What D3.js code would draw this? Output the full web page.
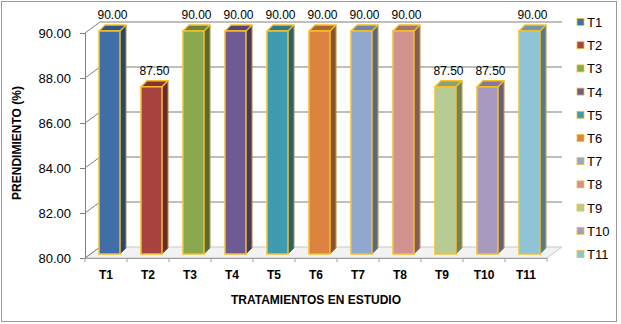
<!DOCTYPE html>
<html lang="es">
<head>
<meta charset="utf-8">
<script src="https://cdnjs.cloudflare.com/ajax/libs/d3/7.8.5/d3.min.js"></script>
<style>
  body { margin: 0; background: #fff; }
  text { font-family: "Liberation Sans", Arial, sans-serif; fill: #000; }
</style>
</head>
<body>
<script>
// data
var categories = ["T1","T2","T3","T4","T5","T6","T7","T8","T9","T10","T11"];
var values = [90.00, 87.50, 90.00, 90.00, 90.00, 90.00, 90.00, 90.00, 87.50, 87.50, 90.00];
var yTicks = [80, 82, 84, 86, 88, 90];
var colors = ["#3f6ea9","#a94340","#8aa84e","#6f5a93","#3f9bb0","#dc843f",
              "#90a8d0","#d19390","#b6cc92","#a99bc0","#8ec4d5"];

var W = 621, H = 324;
var svg = d3.select("body").append("svg").attr("width", W).attr("height", H);

// chart frame
svg.append("rect").attr("x", 1.5).attr("y", 1.5).attr("width", 615).attr("height", 320)
  .attr("fill", "#fff").attr("stroke", "#9a9a9a").attr("stroke-width", 1);

var left = 85, right = 547, depthX = 15, depthY = -11;

var x = d3.scaleBand().domain(categories).range([left, right]);
var yFront = d3.scaleLinear().domain([80, 90]).range([258, 33]);
var yBack = d3.scaleLinear().domain([80, 90]).range([258 + depthY, 33 + depthY]);
var yBar = d3.scaleLinear().domain([80, 90]).range([254, 31]);

// floor
var floor = svg.append("g");
floor.append("path")
  .attr("d", "M" + left + "," + yFront(80) + "L" + right + "," + yFront(80) +
             "L" + (right + depthX) + "," + yBack(80) + "L" + (left + depthX) + "," + yBack(80) + "Z")
  .attr("fill", "#f2f2f2").attr("stroke", "#c8c8c8").attr("stroke-width", 1);

// back wall gridlines
var grid = svg.append("g");
yTicks.forEach(function(t) {
  if (t > 80) {
    grid.append("line")
      .attr("x1", left + depthX).attr("x2", right + depthX)
      .attr("y1", yBack(t)).attr("y2", yBack(t))
      .attr("stroke", "#7f7f7f").attr("stroke-width", 1);
  }
  grid.append("line")
    .attr("x1", left).attr("x2", left + depthX)
    .attr("y1", yFront(t)).attr("y2", yBack(t))
    .attr("stroke", "#7f7f7f").attr("stroke-width", 1);
});

// y axis
var yAxis = d3.axisLeft(yFront).tickValues(yTicks).tickSize(5).tickFormat(d3.format(".2f"));
var gy = svg.append("g").attr("transform", "translate(" + left + ",0)").call(yAxis);
gy.select(".domain").attr("stroke", "#7f7f7f");
gy.selectAll(".tick line").attr("stroke", "#7f7f7f");
gy.selectAll(".tick text").attr("font-size", 13).attr("x", -14)
  .style("font-family", "Liberation Sans, Arial, sans-serif");

// x axis
var xAxis = d3.axisBottom(x).tickSize(0).tickPadding(12);
var gx = svg.append("g").attr("transform", "translate(0," + yFront(80) + ")").call(xAxis);
gx.select(".domain").attr("stroke", "#a0a0a0");
gx.selectAll(".tick text").attr("font-size", 12).attr("font-weight", "bold")
  .style("font-family", "Liberation Sans, Arial, sans-serif");
var bounds = categories.map(function(c) { return x(c); }).concat([right]);
gx.selectAll(".sep").data(bounds).enter().append("line")
  .attr("x1", function(d) { return d; }).attr("x2", function(d) { return d; })
  .attr("y1", 0).attr("y2", 4).attr("stroke", "#a0a0a0");

// bars
var bw = 21, bx = 14, sdx = 6, sdy = -6;
var bars = svg.append("g").selectAll("g").data(values).enter().append("g");
bars.each(function(v, i) {
  var g = d3.select(this);
  var x0 = x(categories[i]) + bx, x1 = x0 + bw;
  var yt = yBar(v), yb = yBar(80);
  var c = d3.color(colors[i]);
  g.append("path") // side
    .attr("d", "M" + x1 + "," + yt + "L" + (x1 + sdx) + "," + (yt + sdy) +
               "L" + (x1 + sdx) + "," + (yb + sdy) + "L" + x1 + "," + yb + "Z")
    .attr("fill", c.darker(1.3)).attr("stroke", c.darker(1.3)).attr("stroke-width", 0.5);
  g.append("path") // top
    .attr("d", "M" + x0 + "," + yt + "L" + (x0 + sdx) + "," + (yt + sdy) +
               "L" + (x1 + sdx) + "," + (yt + sdy) + "L" + x1 + "," + yt + "Z")
    .attr("fill", c.darker(0.7)).attr("stroke", "#f5c02a").attr("stroke-width", 1.3)
    .attr("stroke-linejoin", "round");
  g.append("rect") // front
    .attr("x", x0).attr("y", yt).attr("width", bw).attr("height", yb - yt)
    .attr("fill", c).attr("stroke", "#f5c02a").attr("stroke-width", 1.5);
  g.append("line")
    .attr("x1", x1 + sdx).attr("x2", x1 + sdx).attr("y1", yt + sdy).attr("y2", yb + sdy)
    .attr("stroke", "#d8b040").attr("stroke-width", 0.8);
  g.append("text")
    .attr("x", x0 + bw / 2 + 3).attr("y", yt + sdy - 6)
    .attr("text-anchor", "middle").attr("font-size", 12)
    .text(d3.format(".2f")(v));
});

// axis titles
svg.append("text").attr("x", 316).attr("y", 304).attr("text-anchor", "middle")
  .attr("font-size", 12).attr("font-weight", "bold").text("TRATAMIENTOS EN ESTUDIO");
svg.append("text").attr("transform", "translate(21,143) rotate(-90)")
  .attr("text-anchor", "middle").attr("font-size", 12).attr("font-weight", "bold")
  .text("PRENDIMIENTO (%)");

// legend
var ly = d3.scaleLinear().domain([0, categories.length - 1]).range([22, 254]);
var legend = svg.append("g").selectAll("g").data(categories).enter().append("g")
  .attr("transform", function(d, i) { return "translate(577," + ly(i) + ")"; });
legend.append("rect").attr("x", 0).attr("y", -3.5).attr("width", 7).attr("height", 7)
  .attr("fill", function(d, i) { return colors[i]; })
  .attr("stroke", "#e8c040").attr("stroke-width", 0.8);
legend.append("text").attr("x", 10).attr("y", 5).attr("font-size", 13)
  .text(function(d) { return d; });
</script>
</body>
</html>
